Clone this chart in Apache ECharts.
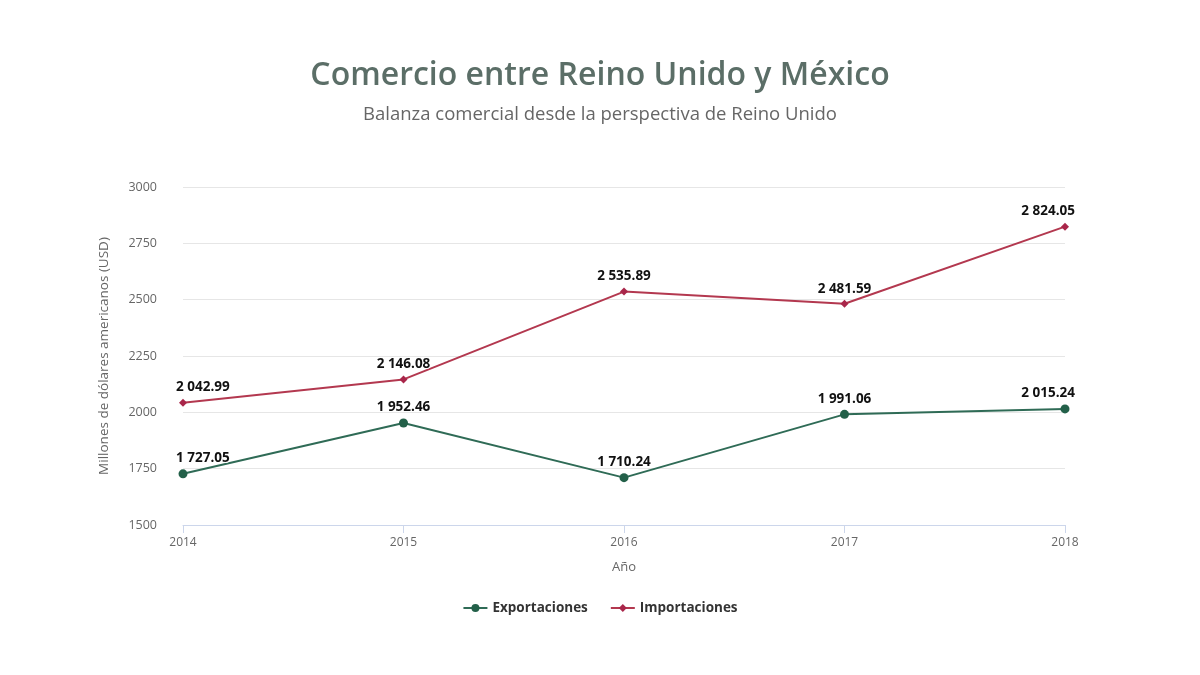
<!DOCTYPE html>
<html>
<head>
<meta charset="utf-8">
<script src="https://cdn.jsdelivr.net/npm/echarts@6/dist/echarts.min.js"></script>
<style>
  html, body { margin: 0; padding: 0; background: #fff; }
  #chart { width: 1200px; height: 675px; }
</style>
</head>
<body>
<div id="chart"></div>
<script>
const years = ['2014', '2015', '2016', '2017', '2018'];
const exportaciones = [1727.05, 1952.46, 1710.24, 1991.06, 2015.24];
const importaciones = [2042.99, 2146.08, 2535.89, 2481.59, 2824.05];

// 1 727.05 -> separador de miles con espacio
function fmt(v) {
  const parts = v.toFixed(2).split('.');
  return parts[0].replace(/\B(?=(\d{3})+(?!\d))/g, ' ') + '.' + parts[1];
}

// primer y último rótulo se alinean para quedar dentro del área
function withLabels(values) {
  return values.map((v, i) => {
    const item = { value: v };
    if (i === 0) item.label = { align: 'left', offset: [-7, 0] };
    if (i === values.length - 1) item.label = { align: 'right', offset: [10, 0] };
    return item;
  });
}

const labelStyle = {
  show: true,
  position: 'top',
  distance: 4,
  formatter: (p) => fmt(p.value),
  fontFamily: 'Open Sans',
  fontWeight: 'bold',
  fontSize: 13.5,
  color: '#111',
  textBorderColor: '#fff',
  textBorderWidth: 2
};

const chart = echarts.init(document.getElementById('chart'));
const option = {
  animation: false,
  title: {
    text: 'Comercio entre Reino Unido y México',
    subtext: 'Balanza comercial desde la perspectiva de Reino Unido',
    left: 'center',
    top: 55,
    itemGap: 13,
    textStyle: { fontFamily: 'Open Sans', fontSize: 32, fontWeight: 600, color: '#5b6e67' },
    subtextStyle: { fontFamily: 'Open Sans', fontSize: 18.5, color: '#666' }
  },
  legend: {
    bottom: 55,
    left: 'center',
    itemWidth: 24,
    itemHeight: 10,
    itemGap: 22,
    textStyle: { fontFamily: 'Open Sans', fontWeight: 'bold', fontSize: 13.5, color: '#333' },
    data: ['Exportaciones', 'Importaciones']
  },
  grid: { left: 183, right: 135, top: 187, bottom: 150 },
  xAxis: {
    type: 'category',
    data: years,
    boundaryGap: false,
    name: 'Año',
    nameLocation: 'middle',
    nameGap: 36,
    nameTextStyle: { fontFamily: 'Open Sans', fontSize: 13, color: '#666' },
    axisLine: { lineStyle: { color: '#ccd6eb' } },
    axisTick: { show: true, alignWithLabel: true, length: 8, lineStyle: { color: '#ccd6eb' } },
    axisLabel: { fontFamily: 'Open Sans', fontSize: 12, color: '#666', margin: 12 },
    splitLine: { show: false }
  },
  yAxis: {
    type: 'value',
    min: 1500,
    max: 3000,
    interval: 250,
    name: 'Millones de dólares americanos (USD)',
    nameLocation: 'middle',
    nameGap: 72,
    nameTextStyle: { fontFamily: 'Open Sans', fontSize: 13.5, color: '#666' },
    axisLine: { show: false },
    axisTick: { show: false },
    axisLabel: { fontFamily: 'Open Sans', fontSize: 12.5, color: '#666', margin: 26, formatter: (v) => String(v) },
    splitLine: { lineStyle: { color: '#e6e6e6' } }
  },
  series: [
    {
      name: 'Exportaciones',
      type: 'line',
      data: withLabels(exportaciones),
      symbol: 'circle',
      symbolSize: 9,
      itemStyle: { color: '#236049' },
      lineStyle: { color: '#2f6b56', width: 2 },
      label: labelStyle
    },
    {
      name: 'Importaciones',
      type: 'line',
      data: withLabels(importaciones),
      symbol: 'diamond',
      symbolSize: 8,
      itemStyle: { color: '#a9264a' },
      lineStyle: { color: '#b3384f', width: 2 },
      label: labelStyle
    }
  ]
};
chart.setOption(option);
</script>
</body>
</html>
